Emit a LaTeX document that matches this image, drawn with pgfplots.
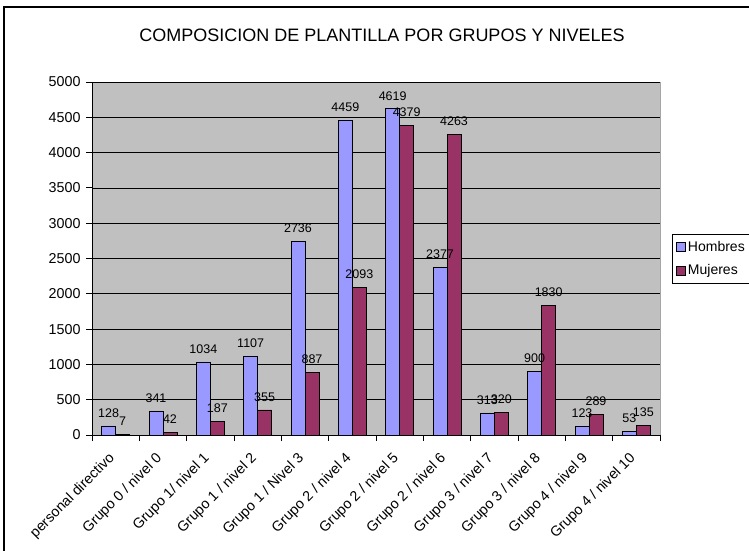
\documentclass[border=0pt]{standalone}
\usepackage{fontspec}
\setmainfont{Liberation Sans}
\usepackage{pgfplots}
\pgfplotsset{compat=1.18}
\definecolor{hombres}{HTML}{9999FF}
\definecolor{mujeres}{HTML}{993366}
\definecolor{plotbg}{HTML}{C0C0C0}
\begin{document}
\begin{tikzpicture}[x=1pt,y=1pt]
\path[use as bounding box] (0,0) rectangle (749,551);
\draw[line width=1.5pt] (4,-20) -- (4,544) -- (780,544);
\node[font=\fontsize{18}{20}\selectfont] at (382,516) {COMPOSICION DE PLANTILLA POR GRUPOS Y NIVELES};
\begin{axis}[
  at={(92pt,116pt)}, anchor=south west,
  width=568pt, height=353pt, scale only axis,
  ybar=0pt, bar width=14pt,
  xmin=-0.5, xmax=11.5, ymin=0, ymax=5000,
  ytick={0,500,...,5000},
  xtick={0,...,11},
  xticklabels={personal directivo, Grupo 0 / nivel 0, Grupo 1/ nivel 1, Grupo 1 / nivel 2, Grupo 1 / Nivel 3, Grupo 2 / nivel 4, Grupo 2 / nivel 5, Grupo 2 / nivel 6, Grupo 3 / nivel 7, Grupo 3 / nivel 8, Grupo 4 / nivel 9, Grupo 4 / nivel 10},
  x tick label style={xshift=-8pt, yshift=-9pt, rotate=45, anchor=north east, font=\fontsize{14.3}{16}\selectfont, inner sep=1pt},
  y tick label style={font=\fontsize{14.3}{16}\selectfont, xshift=-2pt},
  major x tick style={draw=none},
  minor xtick={-0.5,0.5,...,11.5},
  tick align=outside,
  major tick length=6pt, minor tick length=6pt,
  tick style={black, line width=0.8pt},
  axis x line*=bottom, axis y line*=left,
  axis line style={black, line width=0.8pt},
  axis background/.style={fill=plotbg, draw=gray!70},
  ymajorgrids, grid style={black, line width=0.7pt},
  scaled y ticks=false,
  /pgf/number format/1000 sep={},
  /pgf/number format/assume math mode=true,
  nodes near coords,
  every node near coord/.append style={font=\fontsize{12.5}{14}\selectfont, black, yshift=5pt},
  legend style={at={(rel axis cs:1.0211,0.5694)}, anchor=north west, draw=black, fill=white,
    font=\fontsize{14}{16}\selectfont, inner xsep=4pt, inner ysep=5pt, row sep=8pt},
  legend cell align=left,
  clip=false,
]
\addplot[fill=hombres, draw=black, line width=0.8pt,
  legend image code/.code={\draw[fill=hombres,draw=black,line width=0.8pt] (0pt,-4.5pt) rectangle (9pt,4.5pt);}]
  coordinates {(0,128) (1,341) (2,1034) (3,1107) (4,2736) (5,4459) (6,4619) (7,2377) (8,313) (9,900) (10,123) (11,53)};
\addplot[fill=mujeres, draw=black, line width=0.8pt,
  legend image code/.code={\draw[fill=mujeres,draw=black,line width=0.8pt] (0pt,-4.5pt) rectangle (9pt,4.5pt);}]
  coordinates {(0,7) (1,42) (2,187) (3,355) (4,887) (5,2093) (6,4379) (7,4263) (8,320) (9,1830) (10,289) (11,135)};
\legend{Hombres, Mujeres}
\end{axis}
\end{tikzpicture}
\end{document}
